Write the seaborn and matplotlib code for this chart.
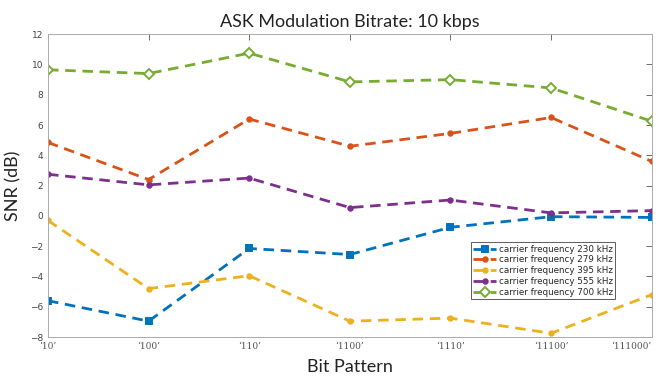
import pandas as pd
import seaborn as sns
import matplotlib.pyplot as plt

# Data
patterns = ["\u201810\u2019", "\u2018100\u2019", "\u2018110\u2019", "\u20181100\u2019",
            "\u20181110\u2019", "\u201811100\u2019", "\u2018111000\u2019"]
snr_230 = [-5.6, -6.95, -2.15, -2.55, -0.75, -0.05, -0.1]
snr_279 = [4.85, 2.4, 6.4, 4.6, 5.45, 6.5, 3.6]
snr_395 = [-0.3, -4.8, -3.95, -6.95, -6.75, -7.75, -5.2]
snr_555 = [2.75, 2.05, 2.5, 0.55, 1.05, 0.2, 0.35]
snr_700 = [9.65, 9.4, 10.75, 8.85, 9.0, 8.45, 6.25]

series = {
    "carrier frequency 230 kHz": snr_230,
    "carrier frequency 279 kHz": snr_279,
    "carrier frequency 395 kHz": snr_395,
    "carrier frequency 555 kHz": snr_555,
    "carrier frequency 700 kHz": snr_700,
}
colors = ["#0072BD", "#D95319", "#EDB120", "#7E2F8E", "#77AC30"]
markers = ["s", "o", "o", "o", "D"]
msizes = [4.5, 3.2, 3.2, 3.2, 5.5]

sns.set_style("white")
plt.rcParams['font.family'] = ['DejaVu Sans']

fig = plt.figure(figsize=(6.57, 3.8), dpi=100)
ax = fig.add_axes([0.073, 0.113, 0.919, 0.797])

x = list(range(len(patterns)))
for (name, vals), c, m, ms in zip(series.items(), colors, markers, msizes):
    df = pd.DataFrame({"pos": x, "snr": vals})
    mfc = "white" if m == "D" else c
    sns.lineplot(data=df, x="pos", y="snr", ax=ax, color=c, linewidth=2.0,
                 marker=m, markersize=ms, markerfacecolor=mfc,
                 markeredgecolor=c, markeredgewidth=1.4, label=name)

for line in ax.get_lines():
    line.set_dashes((3.8, 2.4))

ax.set_xlim(0, 6)
ax.set_ylim(-8, 12)
ax.set_xticks(x)
ax.set_xticklabels(patterns, fontsize=6.5, family="serif")
ax.get_xticklabels()[-1].set_horizontalalignment("right")
ax.set_yticks(range(-8, 13, 2))
ax.tick_params(axis="both", direction="in", length=4, width=0.6,
               colors="#555555", labelsize=6.5, top=True, right=True)
ax.tick_params(axis="y", labelcolor="#444444")
for s in ax.spines.values():
    s.set_color("#aaaaaa")
    s.set_linewidth(0.7)

ax.set_title("ASK Modulation Bitrate: 10 kbps", fontsize=13, color="#222222",
             pad=5, family="Lato")
ax.set_xlabel("Bit Pattern", fontsize=13, color="#222222", labelpad=6, family="Lato")
ax.set_ylabel("SNR (dB)", fontsize=13, color="#222222", labelpad=6, family="Lato")

leg = ax.legend(loc="lower left", bbox_to_anchor=(0.70, 0.125), fontsize=6.3,
                frameon=True, fancybox=False, borderpad=0.3, labelspacing=0.2,
                handlelength=2.6, handletextpad=0.3, borderaxespad=0)
leg.get_frame().set_edgecolor("#333333")
leg.get_frame().set_linewidth(0.7)

fig.savefig("out.png", dpi=100)
